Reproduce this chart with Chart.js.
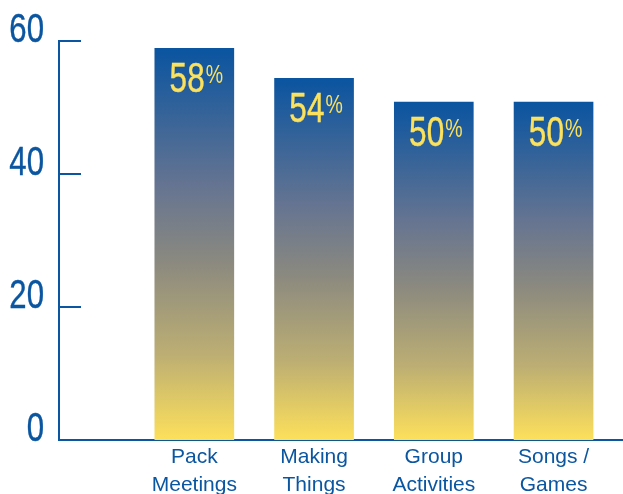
<!DOCTYPE html>
<html>
<head>
<meta charset="utf-8">
<script src="https://cdn.jsdelivr.net/npm/chart.js@4"></script>
<style>
  html, body { margin: 0; padding: 0; background: #fff; }
  #wrap { width: 623px; height: 494px; }
</style>
</head>
<body>
<div id="wrap"><canvas id="chart"></canvas></div>
<script>
    // values
    const categories = [["Pack", "Meetings"], ["Making", "Things"], ["Group", "Activities"], ["Songs /", "Games"]];
    const positions = [1, 2, 3, 4];
    const shares = [58.9, 54.4, 50.8, 50.8];
    const shareLabels = ["58", "54", "50", "50"];
    const yTicks = [0, 20, 40, 60];

    const BLUE = "#0b56a0";
    const YELLOW = "#fce15c";
    const SANS = "'Liberation Sans', Arial, sans-serif";

    // the original uses a condensed face, so squeeze regular text sideways
    // (an optional thin stroke in the same colour brings back some stem weight)
    function narrowText(ctx, text, x, y, sx, align, weight) {
        ctx.save();
        ctx.translate(x, y);
        ctx.scale(sx, 1);
        ctx.textAlign = align || "left";
        ctx.fillText(text, 0, 0);
        if (weight) {
            ctx.lineWidth = weight;
            ctx.strokeStyle = ctx.fillStyle;
            ctx.strokeText(text, 0, 0);
        }
        ctx.restore();
    }

    // blue at the top of each bar fading into yellow at the base
    function barGradient(context) {
        const chart = context.chart;
        const area = chart.chartArea;
        if (!area) return BLUE;
        const top = chart.scales.y.getPixelForValue(shares[context.dataIndex]);
        const g = chart.ctx.createLinearGradient(0, top, 0, area.bottom);
        g.addColorStop(0, "#0a54a0");
        g.addColorStop(0.35, "#657491");
        g.addColorStop(0.55, "#8c8a7f");
        g.addColorStop(0.78, "#bcae73");
        g.addColorStop(1, "#fde05b");
        return g;
    }

    // y tick labels + short tick marks that point into the plot
    const yAxisDecor = {
        id: "yAxisDecor",
        afterDraw(chart) {
            const ctx = chart.ctx;
            const y = chart.scales.y;
            const left = chart.chartArea.left;
            ctx.save();
            ctx.fillStyle = BLUE;
            ctx.font = "41px " + SANS;
            ctx.textBaseline = "alphabetic";
            yTicks.forEach(function (v) {
                const py = Math.round(y.getPixelForValue(v));
                ctx.strokeStyle = BLUE;
                ctx.lineWidth = 2;
                ctx.beginPath();
                ctx.moveTo(left, py);
                ctx.lineTo(left + 22, py);
                ctx.stroke();
                narrowText(ctx, String(v), 44, py + 1, 0.76, "right", 0.4);
            });
            ctx.restore();
        }
    };

    // "58%" style labels inside the bar tops
    const pctLabels = {
        id: "pctLabels",
        afterDatasetsDraw(chart) {
            const ctx = chart.ctx;
            const meta = chart.getDatasetMeta(0);
            const sx = 0.75;
            ctx.save();
            ctx.fillStyle = YELLOW;
            ctx.textBaseline = "alphabetic";
            meta.data.forEach(function (bar, i) {
                const big = "42px " + SANS;
                const small = "26px " + SANS;
                ctx.font = big;
                const w1 = ctx.measureText(shareLabels[i]).width * sx;
                ctx.font = small;
                const w2 = ctx.measureText("%").width * sx;
                const x0 = bar.x + 2 - (w1 + w2 + 1) / 2;
                const base = bar.y + 44;
                ctx.font = big;
                narrowText(ctx, shareLabels[i], x0, base, sx, "left", 0.4);
                ctx.font = small;
                narrowText(ctx, "%", x0 + w1 + 1, base - 9, sx, "left", 0);
            });
            ctx.restore();
        }
    };

    new Chart(document.getElementById("chart"), {
        type: "bar",
        data: {
            datasets: [{
                data: positions.map(function (p, i) { return { x: p, y: shares[i] }; }),
                backgroundColor: barGradient,
                borderWidth: 0,
                barThickness: 79
            }]
        },
        options: {
            responsive: true,
            maintainAspectRatio: false,
            animation: false,
            layout: { padding: { top: 41, left: 0, right: 0, bottom: 0 } },
            plugins: {
                legend: { display: false },
                tooltip: { enabled: false }
            },
            scales: {
                x: {
                    type: "linear",
                    offset: false,
                    min: -0.13,
                    max: 4.58,
                    afterBuildTicks: function (scale) {
                        scale.ticks = positions.map(function (p) { return { value: p }; });
                    },
                    afterFit: function (scale) { scale.height = 54; },
                    grid: { display: false, offset: false },
                    border: { display: true, color: BLUE, width: 2 },
                    ticks: {
                        color: BLUE,
                        padding: -5,
                        maxRotation: 0,
                        autoSkip: false,
                        font: { family: SANS, size: 21, lineHeight: 1.33 },
                        callback: function (value) { return categories[value - 1] || ""; }
                    }
                },
                y: {
                    min: 0,
                    max: 60,
                    afterFit: function (scale) { scale.width = 59; },
                    grid: { display: false, drawTicks: false },
                    border: { display: true, color: BLUE, width: 2 },
                    ticks: { display: false }
                }
            }
        },
        plugins: [yAxisDecor, pctLabels]
    });
</script>
</body>
</html>
